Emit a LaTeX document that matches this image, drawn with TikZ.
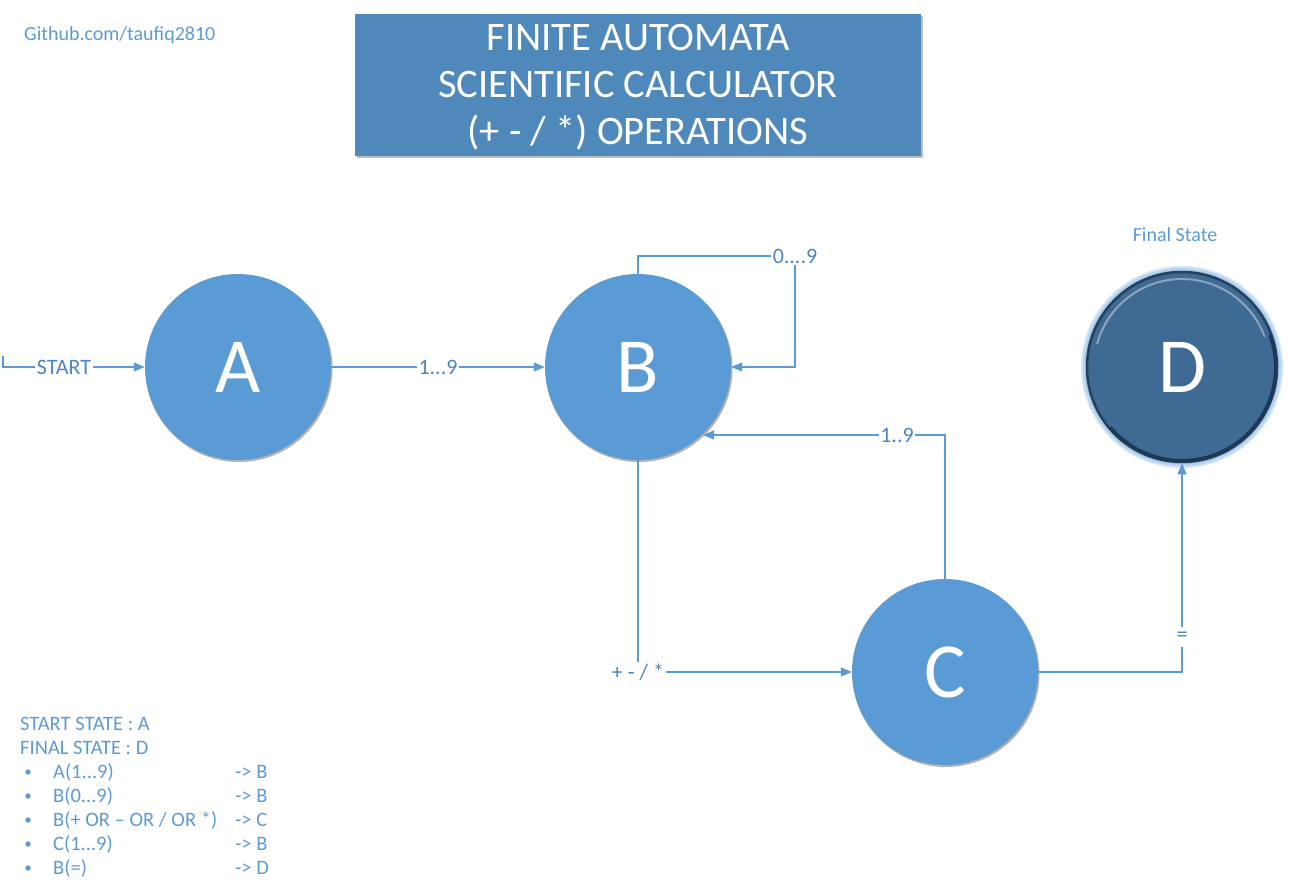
\documentclass[tikz,border=0pt]{standalone}
\usepackage{fontspec}
\setmainfont{Carlito}
\usetikzlibrary{arrows.meta,calc}
\definecolor{cblue}{RGB}{91,155,213}
\definecolor{tblue}{RGB}{79,136,187}
\definecolor{lblue}{RGB}{74,134,197}
\definecolor{dblue}{RGB}{62,106,147}
\definecolor{ddblue}{RGB}{30,55,82}
\definecolor{glow}{RGB}{157,195,230}
\tikzset{
  state/.style={circle,fill=cblue,minimum size=186pt,inner sep=0pt,text=white,font=\fontsize{78}{80}\selectfont},
  conn/.style={draw=cblue,line width=1.3pt},
  arr/.style={conn,-{Triangle[length=11pt,width=9pt]}},
  lab/.style={fill=white,inner sep=1.5pt,text=lblue,font=\fontsize{22}{24}\selectfont},
  leg/.style={anchor=west,inner sep=0pt,text=cblue,font=\fontsize{20.5}{22}\selectfont},
  bul/.style={circle,fill=cblue,inner sep=0pt,minimum size=5.4pt},
}
\newcommand{\legline}[4]{%
  \node[bul] (b#1) at (28,#4) {};
  \node[leg] (t#1) at (53,#4) {#2};
  \node[leg] (r#1) at (235,#4) {-> #3};
}
\begin{document}
\begin{tikzpicture}[x=1pt,y=-1pt]
\useasboundingbox (0,0) rectangle (1289,892);
% title
\fill[black!25] (357,16) rectangle (923,158);
\node[fill=tblue,minimum width=566pt,minimum height=142pt,inner sep=0pt] (title) at (638,85) {};
\node[inner sep=0pt,text=white,align=center,font=\fontsize{40.5}{47}\selectfont] (titletext) at (638,87) {FINITE AUTOMATA\\SCIENTIFIC CALCULATOR\\(+ - / *) OPERATIONS};
\node[anchor=west,inner sep=0pt,text=cblue,font=\fontsize{20}{22}\selectfont] (gh) at (24,35) {Github.com/taufiq2810};
% states
\fill[black!30] (239,368.5) circle (93.5pt);
\fill[black!30] (639,368.5) circle (93.5pt);
\fill[black!30] (946,673.5) circle (93.5pt);
\node[state] (A) at (238,367) {A};
\node[state] (B) at (638,367) {B};
\node[state] (C) at (945,672) {C};
% D
\fill[glow!45] (1182,367) circle (101pt);
\fill[glow!75] (1182,367) circle (99pt);
\fill[glow] (1182,367) circle (97pt);
\node[circle,fill=dblue,draw=ddblue!80!dblue,line width=2.5pt,minimum size=190pt,inner sep=0pt,text=white,font=\fontsize{78}{80}\selectfont] (D) at (1182,367) {D};
\draw[ddblue,line width=3pt] (1182,367) ++(-20:93.5) arc (-20:140:93.5);
\draw[white!40!dblue,line width=2pt] (1182,367) ++(-165:88) arc (-165:-20:88);
\node[text=cblue,inner sep=0pt,font=\fontsize{20}{22}\selectfont] (fs) at (1175,235) {Final State};
% start
\coordinate (s0) at (3,356);
\draw[arr] (s0) |- (A.west) node[lab,pos=0.715] {START};
% A->B
\draw[arr] (A.east) -- node[lab,pos=0.5] {1...9} (B.west);
% self loop
\coordinate (l1) at (638,256);
\coordinate (l2) at (795,256);
\draw[arr] (B.north) -- (l1) -- (l2) -- (795,367) -- (B.east);
\node[lab] (lab0) at (l2) {0....9};
% C->B
\coordinate (c1) at (945,435);
\coordinate (c2) at (703,435);
\draw[arr] (C.north) -- (c1) -- (c2);
\node[lab] (lab1) at (897,435) {1..9};
% B->C
\coordinate (b1) at (638,672);
\draw[arr] (B.south) -- (b1) -- (C.west);
\node[lab] (lab2) at (b1) {+ - / *};
% C->D
\coordinate (d1) at (1182,672);
\draw[arr] (C.east) -- (d1) -- (D.south);
\node[lab,inner ysep=5pt] (lab3) at (1182,637) {=};
% legend
\node[leg] (l0) at (20,724) {START STATE : A};
\node[leg] (lf) at (20,748) {FINAL STATE : D};
\legline{1}{A(1...9)}{B}{772}
\legline{2}{B(0...9)}{B}{796}
\legline{3}{B(+ OR -- OR / OR *)}{C}{820}
\legline{4}{C(1...9)}{B}{844}
\legline{5}{B(=)}{D}{868}
\end{tikzpicture}
\end{document}
